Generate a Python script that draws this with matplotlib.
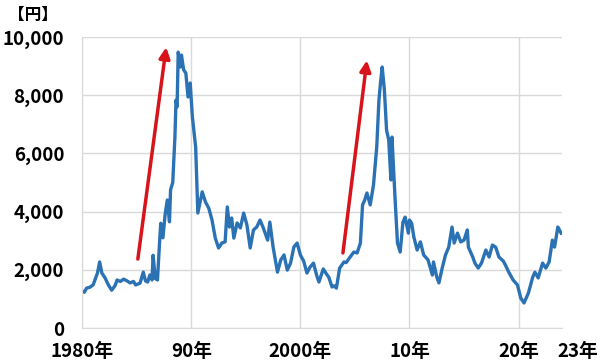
import matplotlib
matplotlib.use('Agg')
import matplotlib.pyplot as plt

plt.rcParams['font.family'] = ['Noto Sans CJK JP', 'DejaVu Sans']
plt.rcParams['font.weight'] = 'bold'

# values (year, yen)
years = [1980.0, 1980.2, 1980.4, 1980.7, 1981.0, 1981.4, 1981.6, 1981.8, 1982.1, 1982.4,
         1982.7, 1983.0, 1983.2, 1983.5, 1983.8, 1984.1, 1984.4, 1984.7, 1984.9, 1985.3,
         1985.6, 1985.8, 1986.0, 1986.2, 1986.4, 1986.5, 1986.7, 1986.9, 1987.1, 1987.2,
         1987.4, 1987.6, 1987.8, 1988.0, 1988.1, 1988.3, 1988.5, 1988.6, 1988.7, 1988.8,
         1989.0, 1989.1, 1989.3, 1989.5, 1989.7, 1989.9, 1990.1, 1990.4, 1990.6, 1991.0,
         1991.3, 1991.6, 1991.9, 1992.2, 1992.5, 1992.8, 1993.1, 1993.3, 1993.5, 1993.7,
         1993.9, 1994.2, 1994.5, 1994.8, 1995.1, 1995.4, 1995.7, 1996.0, 1996.3, 1996.6,
         1997.0, 1997.2, 1997.5, 1997.9, 1998.2, 1998.5, 1998.8, 1999.1, 1999.4, 1999.7,
         2000.0, 2000.3, 2000.6, 2000.9, 2001.2, 2001.5, 2001.7, 2002.1, 2002.4, 2002.6,
         2002.9, 2003.1, 2003.3, 2003.6, 2004.0, 2004.2, 2004.5, 2004.9, 2005.2, 2005.5,
         2005.7, 2005.9, 2006.1, 2006.4, 2006.7, 2007.0, 2007.2, 2007.35, 2007.5, 2007.7,
         2007.9, 2008.1, 2008.3, 2008.4, 2008.5, 2008.7, 2008.9, 2009.15, 2009.4, 2009.6,
         2009.9, 2010.0, 2010.2, 2010.4, 2010.7, 2011.0, 2011.3, 2011.7, 2012.1, 2012.2,
         2012.5, 2012.7, 2013.0, 2013.3, 2013.6, 2013.9, 2014.1, 2014.4, 2014.7, 2015.0,
         2015.3, 2015.4, 2015.8, 2016.0, 2016.3, 2016.6, 2017.0, 2017.3, 2017.6, 2017.9,
         2018.2, 2018.6, 2018.8, 2019.1, 2019.5, 2019.9, 2020.2, 2020.5, 2020.9, 2021.3,
         2021.5, 2021.8, 2022.2, 2022.5, 2022.8, 2023.1, 2023.3, 2023.6, 2023.9]
prices = [1270, 1230, 1370, 1400, 1480, 1890, 2270, 1890, 1720, 1480,
          1300, 1450, 1650, 1600, 1680, 1620, 1550, 1600, 1480, 1540,
          1920, 1620, 1580, 1820, 1650, 2500, 1700, 1650, 3000, 3600,
          3100, 3900, 4400, 3650, 4750, 5000, 6570, 7830, 7600, 9480,
          8970, 9380, 8870, 8760, 7940, 8420, 7250, 6220, 3950, 4680,
          4330, 4120, 3710, 3090, 2750, 2920, 2960, 4160, 3470, 3780,
          3090, 3610, 3440, 3950, 3540, 2750, 3370, 3470, 3710, 3440,
          3020, 3640, 2780, 1920, 2340, 2510, 1990, 2230, 2780, 2920,
          2510, 2300, 1890, 2100, 2230, 1800, 1580, 2030, 1850, 1750,
          1410, 1450, 1370, 2060, 2270, 2250, 2410, 2610, 2580, 2920,
          4230, 4400, 4640, 4230, 4910, 6220, 7830, 8450, 8970, 8180,
          6800, 6460, 5090, 6560, 5770, 4300, 2920, 2610, 3640, 3810,
          3260, 3710, 3600, 3130, 2680, 2960, 2510, 2340, 1820, 2270,
          1750, 1550, 2060, 2510, 2780, 3470, 2920, 3260, 2960, 3020,
          3370, 2780, 2440, 2230, 2060, 2230, 2680, 2440, 2850, 2780,
          2440, 2300, 2160, 1920, 1650, 1480, 1030, 860, 1200, 1750,
          1920, 1720, 2230, 2060, 2270, 3020, 2780, 3470, 3260]

tick_years = [1980, 1990, 2000, 2010, 2020]
tick_labels = ['1980年', '90年', '2000年', '10年', '20年']

# red arrows: (tail, head)
arrows = [((1985.1, 2370), (1987.7, 9650)),
          ((2003.9, 2580), (2006.1, 9200))]

fig = plt.figure(figsize=(6, 3.63), dpi=100)
ax = fig.add_axes([0.137, 0.0964, 0.8, 0.8016])

ax.plot(years, prices, color='#2B72B4', lw=2.4, solid_joinstyle='round')

for tail, head in arrows:
    ax.annotate('', xy=head, xytext=tail,
                arrowprops=dict(arrowstyle='-|>', color='#D7141A', lw=2.5,
                                mutation_scale=16, shrinkA=0, shrinkB=0))

ax.set_xlim(1980, 2024)
ax.set_ylim(0, 10000)
ax.set_yticks(range(0, 10001, 2000))
ax.set_yticklabels([f'{v:,}' for v in range(0, 10001, 2000)])
ax.set_xticks(tick_years)
ax.set_xticklabels(tick_labels)

ax.grid(True, color='#D9D9D9', lw=1)
ax.set_axisbelow(True)
for s in ['top', 'right']:
    ax.spines[s].set_visible(False)
for s in ['left', 'bottom']:
    ax.spines[s].set_color('#D9D9D9')
ax.tick_params(length=0, labelsize=13.5, colors='black')
ax.tick_params(axis='y', pad=13)
ax.tick_params(axis='x', pad=10)

ax.annotate('23年', xy=(2025.4, 0), xycoords=('data', 'axes fraction'),
            xytext=(0, -10), textcoords='offset points', ha='center', va='top',
            fontsize=13.5, fontweight='bold', annotation_clip=False)

fig.text(0.055, 0.958, '【円】', fontsize=12, fontweight='bold', ha='center', va='center')

fig.savefig('out.png', dpi=100)
